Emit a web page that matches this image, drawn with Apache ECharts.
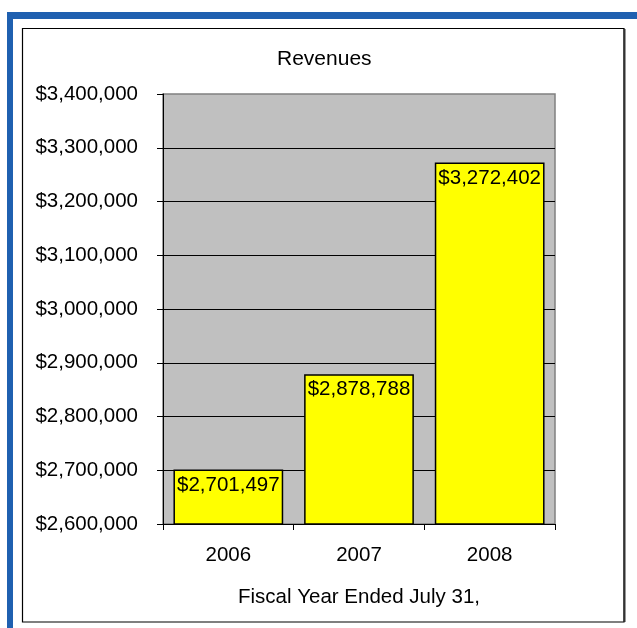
<!DOCTYPE html>
<html>
<head>
<meta charset="utf-8">
<script src="https://cdn.jsdelivr.net/npm/echarts@6/dist/echarts.min.js"></script>
<style>
html,body{margin:0;padding:0;background:#fff;}
#chart{width:637px;height:628px;}
</style>
</head>
<body>
<div id="chart"></div>
<script>
var categories = ['2006', '2007', '2008'];
var revenues = [2701497, 2878788, 3272402];
var yMin = 2600000;
var yMax = 3400000;
var yStep = 100000;
var titleText = 'Revenues';
var xAxisTitle = 'Fiscal Year Ended July 31,';

function money(v) {
  return '$' + Math.round(v).toString().replace(/\B(?=(\d{3})+(?!\d))/g, ',');
}

var FONT = '"Liberation Sans", Arial, sans-serif';
var chart = echarts.init(document.getElementById('chart'), null, {renderer: 'canvas'});
chart.setOption({
  animation: false,
  backgroundColor: '#ffffff',
  textStyle: {fontFamily: FONT},
  graphic: [
    {type: 'rect', shape: {x: 7, y: 12, width: 640, height: 7}, style: {fill: '#1f60b0'}, z: 0},
    {type: 'rect', shape: {x: 7, y: 12, width: 6, height: 620}, style: {fill: '#1f60b0'}, z: 0},
    {type: 'rect', shape: {x: 22.5, y: 28.5, width: 601.5, height: 593.5}, style: {fill: 'none', stroke: '#000', lineWidth: 1.2}, z: 0},
    {type: 'line', shape: {x1: 624.5, y1: 29, x2: 624.5, y2: 622}, style: {stroke: '#333', lineWidth: 2}, z: 0},
    {type: 'text', left: 277, top: 49, style: {text: titleText, font: '21px ' + FONT, fill: '#000'}, z: 5}
  ],
  grid: {
    left: 163, right: 82, top: 94, bottom: 104,
    show: true, backgroundColor: '#c0c0c0', borderColor: '#808080', borderWidth: 1.5,
    containLabel: false
  },
  xAxis: {
    type: 'category',
    data: categories,
    name: xAxisTitle,
    nameLocation: 'middle',
    nameGap: 63,
    nameTextStyle: {fontSize: 20.5, color: '#000', fontFamily: FONT},
    axisLine: {lineStyle: {color: '#000', width: 1}},
    axisTick: {show: true, length: 6, lineStyle: {color: '#000'}},
    axisLabel: {fontSize: 20.5, color: '#000', margin: 21, fontFamily: FONT},
    splitLine: {show: false}
  },
  yAxis: {
    type: 'value',
    min: yMin, max: yMax, interval: yStep,
    axisLine: {show: true, lineStyle: {color: '#000', width: 1}},
    axisTick: {show: true, length: 6, lineStyle: {color: '#000'}},
    axisLabel: {fontSize: 20.5, color: '#000', margin: 25, fontFamily: FONT, formatter: money},
    splitLine: {show: true, showMaxLine: false, showMinLine: false, lineStyle: {color: '#000', width: 1}}
  },
  series: [{
    type: 'bar',
    data: revenues,
    barCategoryGap: '16%',
    itemStyle: {color: '#ffff00', borderColor: '#000', borderWidth: 1.5},
    label: {
      show: true, position: 'insideTop', distance: 5,
      fontSize: 20.5, color: '#000', fontFamily: FONT,
      formatter: function (p) { return money(p.value); }
    },
    z: 3
  }]
});
</script>
</body>
</html>
